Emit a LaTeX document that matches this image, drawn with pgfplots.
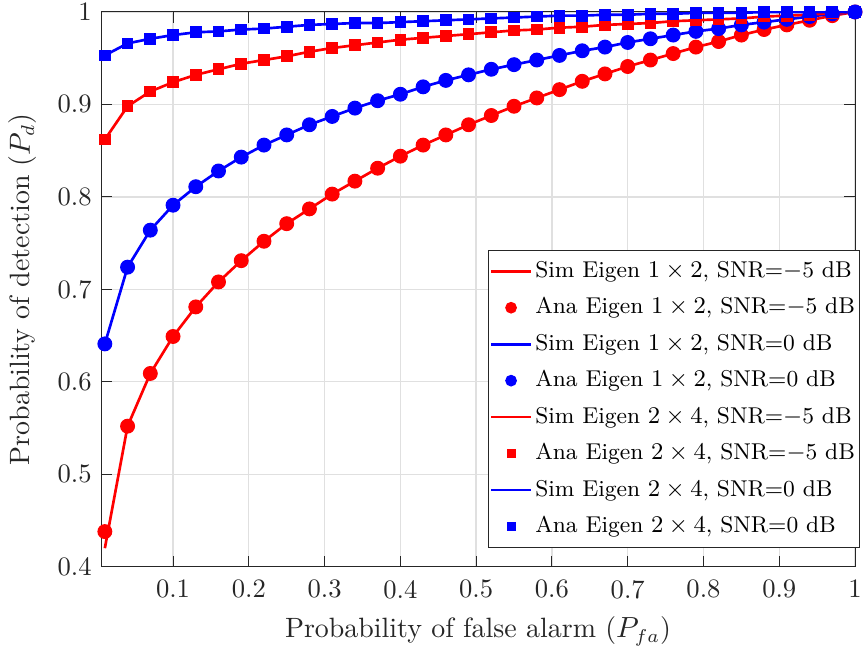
\documentclass[border=0pt]{standalone}
\usepackage{pgfplots}
\usepackage{pgfplotstable}
\pgfplotsset{compat=1.18}
\definecolor{axgray}{rgb}{0.15,0.15,0.15}
\definecolor{gridgray}{rgb}{0.88,0.88,0.88}

% Pfa  Pd(1x2,-5dB)  Pd(1x2,0dB)  Pd(2x4,-5dB)  Pd(2x4,0dB)
\pgfplotstableread{
x    a     b     c     d
0.01 0.438 0.641 0.862 0.953
0.04 0.552 0.724 0.898 0.966
0.07 0.609 0.764 0.914 0.971
0.10 0.649 0.791 0.924 0.975
0.13 0.681 0.811 0.932 0.978
0.16 0.708 0.828 0.938 0.979
0.19 0.731 0.843 0.944 0.981
0.22 0.752 0.856 0.948 0.982
0.25 0.771 0.867 0.952 0.984
0.28 0.787 0.878 0.957 0.986
0.31 0.803 0.887 0.961 0.987
0.34 0.817 0.896 0.964 0.988
0.37 0.831 0.904 0.967 0.988
0.40 0.844 0.911 0.970 0.989
0.43 0.856 0.919 0.972 0.990
0.46 0.867 0.926 0.974 0.991
0.49 0.878 0.932 0.976 0.992
0.52 0.888 0.938 0.978 0.993
0.55 0.898 0.943 0.980 0.994
0.58 0.907 0.948 0.981 0.995
0.61 0.916 0.953 0.983 0.996
0.64 0.925 0.958 0.984 0.996
0.67 0.933 0.962 0.986 0.997
0.70 0.941 0.967 0.987 0.997
0.73 0.948 0.971 0.988 0.998
0.76 0.955 0.975 0.990 0.998
0.79 0.962 0.979 0.991 0.999
0.82 0.968 0.982 0.992 0.999
0.85 0.975 0.986 0.993 0.999
0.88 0.981 0.989 0.995 1.000
0.91 0.986 0.992 0.996 1.000
0.94 0.991 0.995 0.997 1.000
0.97 0.996 0.998 0.999 1.000
1.00 1.000 1.000 1.000 1.000
}\ana

% simulated curves
\pgfplotstableread{
x    a     b     c     d
0.01 0.420 0.641 0.862 0.953
0.04 0.552 0.724 0.898 0.966
0.07 0.609 0.764 0.914 0.971
0.10 0.649 0.791 0.924 0.975
0.13 0.681 0.811 0.932 0.978
0.16 0.708 0.828 0.938 0.979
0.19 0.731 0.843 0.944 0.981
0.22 0.752 0.856 0.948 0.982
0.25 0.771 0.867 0.952 0.984
0.28 0.787 0.878 0.957 0.986
0.31 0.803 0.887 0.961 0.987
0.34 0.817 0.896 0.964 0.988
0.37 0.831 0.904 0.967 0.988
0.40 0.844 0.911 0.970 0.989
0.43 0.856 0.919 0.972 0.990
0.46 0.867 0.926 0.974 0.991
0.49 0.878 0.932 0.976 0.992
0.52 0.888 0.938 0.978 0.993
0.55 0.898 0.943 0.980 0.994
0.58 0.907 0.948 0.981 0.995
0.61 0.916 0.953 0.983 0.996
0.64 0.925 0.958 0.984 0.996
0.67 0.933 0.962 0.986 0.997
0.70 0.941 0.967 0.987 0.997
0.73 0.948 0.971 0.988 0.998
0.76 0.955 0.975 0.990 0.998
0.79 0.962 0.979 0.991 0.999
0.82 0.968 0.982 0.992 0.999
0.85 0.975 0.986 0.993 0.999
0.88 0.981 0.989 0.995 1.000
0.91 0.986 0.992 0.996 1.000
0.94 0.991 0.995 0.997 1.000
0.97 0.996 0.998 0.999 1.000
1.00 1.000 1.000 1.000 1.000
}\sim

\pgfplotsset{
  simline/.style={line width=1pt,
    legend image code/.code={\draw[##1] (0cm,0cm) -- (0.52cm,0cm);}},
  anacirc/.style={only marks, mark=*, mark size=2.6pt,
    legend image code/.code={\draw[##1, mark size=2pt] plot coordinates {(0.26cm,0cm)};}},
  anasq/.style={only marks, mark=square*, mark size=2pt,
    legend image code/.code={\draw[##1, mark size=1.5pt] plot coordinates {(0.26cm,0cm)};}},
}

\begin{document}
\begin{tikzpicture}
\begin{axis}[%
scale only axis,
width=283.5pt, height=208.6pt,
xmin=0.005, xmax=1,
ymin=0.4, ymax=1,
xtick={0.1,0.2,...,1.0},
xticklabels={0.1,0.2,0.3,0.4,0.5,0.6,0.7,0.8,0.9,1},
ytick={0.4,0.5,...,1.0},
yticklabels={0.4,0.5,0.6,0.7,0.8,0.9,1},
tick align=inside,
major tick length=4pt,
axis line style={axgray},
every tick/.style={axgray},
tick label style={axgray},
xticklabel style={yshift=-1.5pt},
grid=major,
major grid style={gridgray, line width=0.5pt},
xlabel={Probability of false alarm ($P_{fa}$)},
ylabel={Probability of detection ($P_d$)},
ylabel shift=1pt,
label style={axgray, font=\fontsize{10.5}{12}\selectfont},
legend cell align=left,
legend style={at={(rel axis cs:1.0066,0.034)}, anchor=south east,
  draw=axgray, fill=white, font=\fontsize{8.6}{10}\selectfont, row sep=2.1pt,
  inner xsep=0.5pt, inner ysep=2pt, nodes={inner xsep=1.2pt}},
]
\addplot[red, simline] table[x=x, y=a] {\sim};
\addlegendentry{Sim Eigen $1\times2$, SNR=$-$5 dB}
\addplot[red, anacirc] table[x=x, y=a] {\ana};
\addlegendentry{Ana Eigen $1\times2$, SNR=$-$5 dB}
\addplot[blue, simline] table[x=x, y=b] {\sim};
\addlegendentry{Sim Eigen $1\times2$, SNR=0 dB}
\addplot[blue, anacirc] table[x=x, y=b] {\ana};
\addlegendentry{Ana Eigen $1\times2$, SNR=0 dB}
\addplot[red, simline] table[x=x, y=c] {\sim};
\addlegendentry{Sim Eigen $2\times4$, SNR=$-$5 dB}
\addplot[red, anasq] table[x=x, y=c] {\ana};
\addlegendentry{Ana Eigen $2\times4$, SNR=$-$5 dB}
\addplot[blue, simline] table[x=x, y=d] {\sim};
\addlegendentry{Sim Eigen $2\times4$, SNR=0 dB}
\addplot[blue, anasq] table[x=x, y=d] {\ana};
\addlegendentry{Ana Eigen $2\times4$, SNR=0 dB}
\end{axis}
\pgfresetboundingbox
\path ([xshift=-38pt,yshift=-31.2pt]current axis.south west)
  rectangle ([xshift=3pt,yshift=4.5pt]current axis.north east);
\end{tikzpicture}
\end{document}
